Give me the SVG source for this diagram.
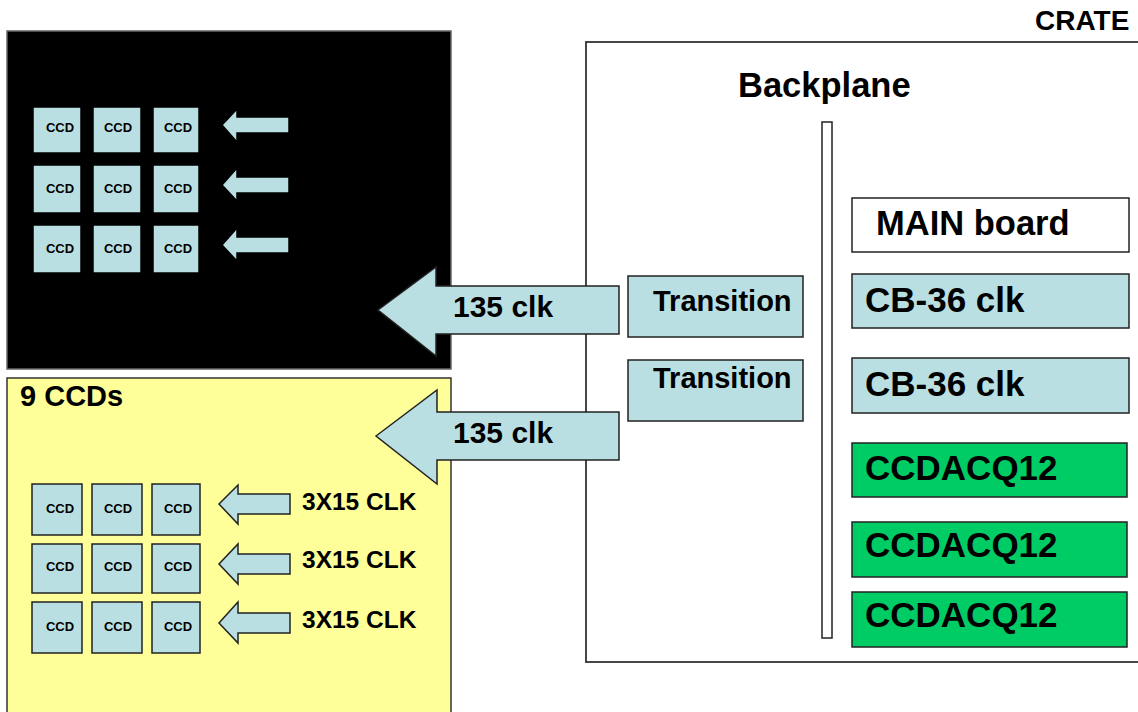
<svg xmlns="http://www.w3.org/2000/svg" width="1138" height="712" viewBox="0 0 1138 712">
<style>
text{font-family:"Liberation Sans",Arial,sans-serif;font-weight:bold;fill:#000}
.ccd{fill:#BADFE2;stroke:#222;stroke-width:1.5}
.ccdt{font-size:13px;text-anchor:middle}
.arr{fill:#BADFE2;stroke:#222;stroke-width:1.5}
.box{fill:#BADFE2;stroke:#222;stroke-width:1.5}
.grn{fill:#00CC66;stroke:#222;stroke-width:1.5}
.big{font-size:35px}
.clk{font-size:24.5px}
</style>
<rect width="1138" height="712" fill="#fff"/>
<g id="crate">
<rect x="586" y="42" width="570" height="620" fill="#fff" stroke="#333" stroke-width="1.8"/>
<text x="1035" y="30" style="font-size:28px">CRATE</text>
</g>
<g id="backplane">
<text x="738" y="97" style="font-size:34.5px">Backplane</text>
<rect x="822" y="122" width="10" height="516" fill="#fff" stroke="#222" stroke-width="1.5"/>
</g>
<g id="main-board">
<rect x="852" y="198" width="277" height="54" fill="#fff" stroke="#222" stroke-width="1.5"/>
<text x="876" y="235" style="font-size:34.5px">MAIN board</text>
</g>
<g id="cb36-1">
<rect x="852" y="274" width="277" height="54" class="box"/>
<text x="865" y="312" class="big">CB-36 clk</text>
</g>
<g id="cb36-2">
<rect x="852" y="358" width="277" height="55" class="box"/>
<text x="865" y="396" class="big">CB-36 clk</text>
</g>
<g id="ccdacq-1">
<rect x="852" y="443" width="275" height="54" class="grn"/>
<text x="865" y="480" class="big">CCDACQ12</text>
</g>
<g id="ccdacq-2">
<rect x="852" y="522" width="275" height="55" class="grn"/>
<text x="865" y="557" class="big">CCDACQ12</text>
</g>
<g id="ccdacq-3">
<rect x="852" y="592" width="275" height="55" class="grn"/>
<text x="865" y="627" class="big">CCDACQ12</text>
</g>
<g id="transition-1">
<rect x="628" y="276" width="175" height="61" class="box"/>
<text x="653" y="311" style="font-size:29px">Transition</text>
</g>
<g id="transition-2">
<rect x="628" y="360" width="175" height="61" class="box"/>
<text x="653" y="388" style="font-size:29px">Transition</text>
</g>
<g id="panel-top">
<rect x="7" y="31" width="444" height="338" fill="#000" stroke="#666" stroke-width="1.5"/>
<g>
<rect x="33" y="107" width="48" height="46" class="ccd" style="stroke:#000"/>
<rect x="93" y="107" width="48" height="46" class="ccd" style="stroke:#000"/>
<rect x="153" y="107" width="46" height="46" class="ccd" style="stroke:#000"/>
<rect x="33" y="165" width="48" height="48" class="ccd" style="stroke:#000"/>
<rect x="93" y="165" width="48" height="48" class="ccd" style="stroke:#000"/>
<rect x="153" y="165" width="46" height="48" class="ccd" style="stroke:#000"/>
<rect x="33" y="225" width="48" height="48" class="ccd" style="stroke:#000"/>
<rect x="93" y="225" width="48" height="48" class="ccd" style="stroke:#000"/>
<rect x="153" y="225" width="46" height="48" class="ccd" style="stroke:#000"/>
<text x="60" y="132" class="ccdt">CCD</text>
<text x="118" y="132" class="ccdt">CCD</text>
<text x="178" y="132" class="ccdt">CCD</text>
<text x="60" y="193" class="ccdt">CCD</text>
<text x="118" y="193" class="ccdt">CCD</text>
<text x="178" y="193" class="ccdt">CCD</text>
<text x="60" y="253" class="ccdt">CCD</text>
<text x="118" y="253" class="ccdt">CCD</text>
<text x="178" y="253" class="ccdt">CCD</text>
</g>
</g>
<g id="panel-bottom">
<rect x="7" y="378" width="444" height="345" fill="#FFFF99" stroke="#333" stroke-width="1.5"/>
<text x="20" y="406" style="font-size:29px">9 CCDs</text>
<rect x="32" y="484" width="50" height="51" class="ccd"/>
<rect x="92" y="484" width="50" height="51" class="ccd"/>
<rect x="152" y="484" width="48" height="51" class="ccd"/>
<rect x="32" y="544" width="50" height="49" class="ccd"/>
<rect x="92" y="544" width="50" height="49" class="ccd"/>
<rect x="152" y="544" width="48" height="49" class="ccd"/>
<rect x="32" y="602" width="50" height="51" class="ccd"/>
<rect x="92" y="602" width="50" height="51" class="ccd"/>
<rect x="152" y="602" width="48" height="51" class="ccd"/>
<text x="60" y="513" class="ccdt">CCD</text>
<text x="118" y="513" class="ccdt">CCD</text>
<text x="178" y="513" class="ccdt">CCD</text>
<text x="60" y="571" class="ccdt">CCD</text>
<text x="118" y="571" class="ccdt">CCD</text>
<text x="178" y="571" class="ccdt">CCD</text>
<text x="60" y="631" class="ccdt">CCD</text>
<text x="118" y="631" class="ccdt">CCD</text>
<text x="178" y="631" class="ccdt">CCD</text>
<text x="302" y="510" class="clk">3X15 CLK</text>
<text x="302" y="568" class="clk">3X15 CLK</text>
<text x="302" y="628" class="clk">3X15 CLK</text>
</g>
<g id="connectors">
<path class="arr" style="stroke:#000" d="M222,125 L237,109 L237,117 L289,117 L289,133 L237,133 L237,142 Z"/>
<path class="arr" style="stroke:#000" d="M222,185 L237,168 L237,177 L289,177 L289,193 L237,193 L237,201 Z"/>
<path class="arr" style="stroke:#000" d="M222,245 L237,228 L237,237 L289,237 L289,253 L237,253 L237,261 Z"/>
<path class="arr" d="M219,504 L238,485 L238,494 L290,494 L290,514 L238,514 L238,524 Z"/>
<path class="arr" d="M219,564 L238,544 L238,554 L290,554 L290,574 L238,574 L238,584 Z"/>
<path class="arr" d="M219,623 L238,602 L238,613 L290,613 L290,633 L238,633 L238,643 Z"/>
<path class="arr" d="M378,310 L436,267 L436,286 L619,286 L619,334 L436,334 L436,356 Z"/>
<path class="arr" d="M376,436 L437,390 L437,412 L619,412 L619,460 L437,460 L437,484 Z"/>
<text x="453" y="317" style="font-size:30px">135 clk</text>
<text x="453" y="443" style="font-size:30px">135 clk</text>
</g>
</svg>
